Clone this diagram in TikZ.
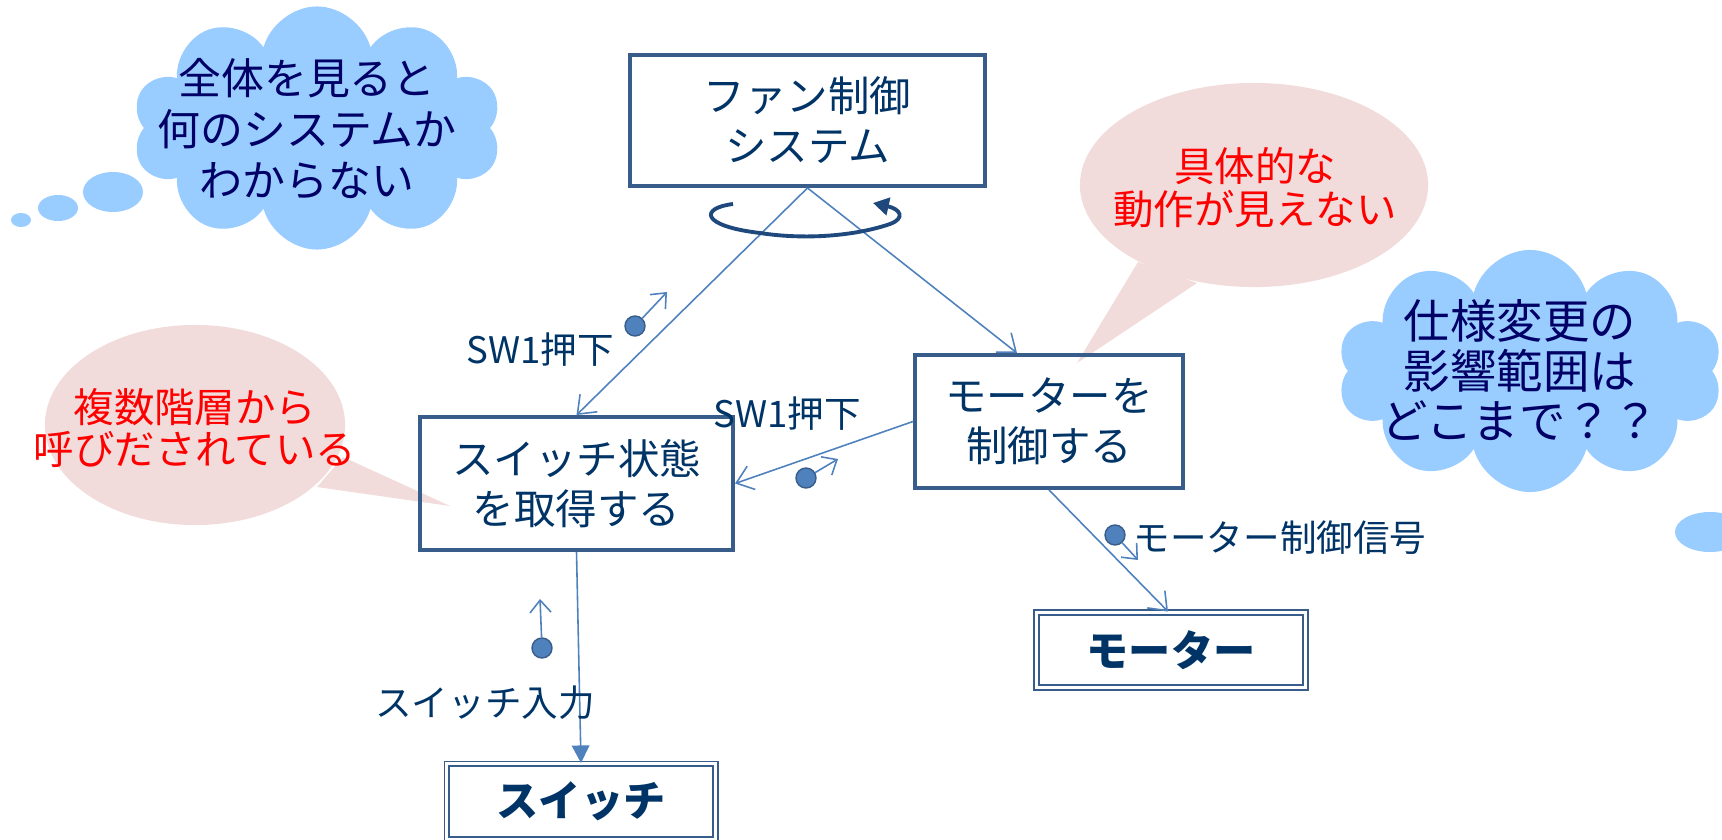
\documentclass[tikz,border=0pt]{standalone}
\usepackage{fontspec}
\setmainfont{Noto Sans CJK JP}
\usetikzlibrary{arrows.meta,shapes.symbols}

\definecolor{boxline}{RGB}{56,93,138}
\definecolor{boxtext}{RGB}{0,51,102}
\definecolor{flowline}{RGB}{79,129,189}
\definecolor{loopline}{RGB}{31,73,125}
\definecolor{cloudblue}{RGB}{153,204,255}
\definecolor{notepink}{RGB}{242,220,219}
\definecolor{thinknavy}{RGB}{0,0,102}

\tikzset{
  proc/.style={draw=boxline, line width=1.1pt, text=boxtext, align=center,
    font=\fontsize{11.8}{14.2}\selectfont},
  term/.style={draw=boxline, line width=0.55pt, double=white, double distance=0.85pt,
    text=boxtext, font=\bfseries\fontsize{12}{14}\selectfont},
  flow/.style={draw=flowline, line width=0.45pt, -{Straight Barb[length=4.5pt,width=7pt]}},
  token/.style={circle, fill=flowline, draw=boxline, line width=0.4pt,
    minimum size=0.2cm, inner sep=0pt},
  msg/.style={draw=flowline, line width=0.45pt, -{Straight Barb[length=3.5pt,width=6pt]}},
  lbl/.style={text=boxtext, inner sep=0pt, font=\fontsize{10.4}{12}\selectfont},
  note/.style={text=red, align=center, font=\fontsize{11.5}{12.2}\selectfont},
  think/.style={cloud, cloud puffs=10, fill=cloudblue, inner sep=0pt},
  thinktext/.style={text=thinknavy, align=center, font=\fontsize{12.2}{14.5}\selectfont}
}

\begin{document}
\begin{tikzpicture}[x=0.01cm, y=-0.01cm]
    \useasboundingbox (0,0) rectangle (1722,840);

    % speech bubbles
    \fill [notepink] (195,425) ellipse [x radius=1.5cm, y radius=1cm];
    \fill [notepink] (343,457) -- (450,506) -- (317,487) -- cycle;
    \node [note] (multi) at (195,428) {複数階層から\\呼びだされている};
    \fill [notepink] (1254,185) ellipse [x radius=1.74cm, y radius=1.02cm];
    \fill [notepink] (1138,262) -- (1077,363) -- (1197,283) -- cycle;
    \node [note] (vague) at (1255,188) {具体的な\\動作が見えない};

    % thought clouds
    \node [think, minimum width=3.69cm, minimum height=2.43cm] (cloudL) at (317,128) {};
    \node [thinktext] (whole) at (307,129) {全体を見ると\\何のシステムか\\わからない};
    \fill [cloudblue] (113,192) ellipse [x radius=0.3cm, y radius=0.2cm];
    \fill [cloudblue] (58,208) ellipse [x radius=0.2cm, y radius=0.13cm];
    \fill [cloudblue] (21,220) ellipse [x radius=0.1cm, y radius=0.07cm];
    \node [think, minimum width=3.85cm, minimum height=2.42cm] (cloudR) at (1530,371) {};
    \node [thinktext, font=\fontsize{13.2}{14.3}\selectfont] (scope) at (1520,370) {仕様変更の\\影響範囲は\\どこまで？？};
    \fill [cloudblue] (1710,532) ellipse [x radius=0.35cm, y radius=0.2cm];

    % structure chart
    \node [proc, minimum width=3.55cm, minimum height=1.31cm] (fan) at (807.5,120.5) {ファン制御\\システム};
    \node [proc, minimum width=3.13cm, minimum height=1.33cm] (getsw) at (576.5,483.5) {スイッチ状態\\を取得する};
    \node [proc, minimum width=2.68cm, minimum height=1.33cm] (ctrl) at (1049,421.5) {モーターを\\制御する};
    \node [term, minimum width=2.69cm, minimum height=0.75cm] (motor) at (1171,650) {モーター};
    \node [term, minimum width=2.68cm, minimum height=0.75cm] (switch) at (581,801.5) {スイッチ};

    \draw [flow] (fan.south) -- (getsw.north);
    \draw [flow] (fan.south) -- ([xshift=-0.32cm]ctrl.north);
    \draw [flow] (ctrl.west) -- (getsw.east);
    \draw [flow] (ctrl.south) -- ([xshift=-0.03cm]motor.north);
    \draw [draw=flowline, line width=0.45pt, -{Triangle[length=5pt,width=5pt]}] (getsw.south) -- (switch.north);

    % repeat loop
    \draw [loopline, line width=1.1pt, -{Triangle[length=4.5pt,width=5pt]}]
      (733,204) .. controls (700,208) and (700,226) .. (760,233)
      .. controls (805,240) and (855,236) .. (890,224)
      .. controls (906,218) and (900,209) .. (873,203);

    % data couples
    \node [token] (sw1a) at (635,326) {};
    \coordinate (sw1aend) at (667,292);
    \draw [msg] (sw1a) -- (sw1aend);
    \node [lbl] (sw1alabel) at (540,350) {SW1押下};
    \node [token] (sw1b) at (806,478) {};
    \coordinate (sw1bend) at (838,459);
    \draw [msg] (sw1b) -- (sw1bend);
    \node [lbl] (sw1blabel) at (787,414) {SW1押下};
    \node [token] (sig) at (1115,535) {};
    \coordinate (sigend) at (1138,560);
    \draw [msg] (sig) -- (sigend);
    \node [lbl, anchor=west] (siglabel) at (1133,538) {モーター制御信号};
    \node [token] (swin) at (542,648) {};
    \coordinate (swinend) at (540,599);
    \draw [msg] (swin) -- (swinend);
    \node [lbl] (swinlabel) at (485,703) {スイッチ入力};
\end{tikzpicture}
\end{document}
